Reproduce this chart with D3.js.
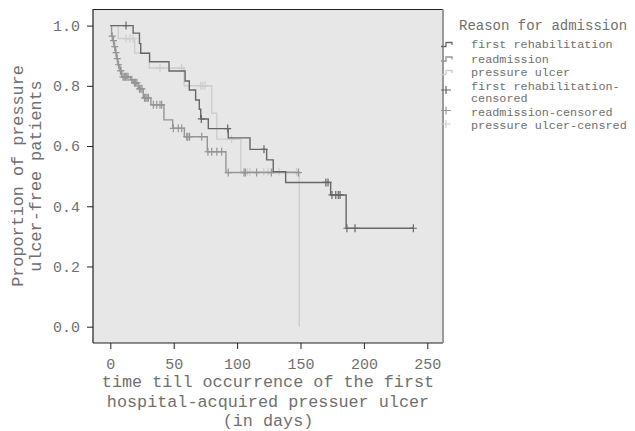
<!DOCTYPE html>
<html>
<head>
<meta charset="utf-8">
<script src="https://cdn.jsdelivr.net/npm/d3@7"></script>
<style>
  body { margin: 0; background: #fff; }
  text { font-family: "Liberation Mono", "DejaVu Sans Mono", monospace; fill: #707070; }
</style>
</head>
<body>
<svg id="chart" width="635" height="431"></svg>
<script>
// step curves: [day, proportion] at each event
const rehabSteps = [[0, 1], [18, 0.975], [23, 0.94], [24, 0.908], [31, 0.88], [46.3, 0.849], [59, 0.816],
  [62.3, 0.786], [67.3, 0.753], [70.2, 0.722], [71.3, 0.69], [77.3, 0.658], [93, 0.627], [110.2, 0.589],
  [123.3, 0.554], [128.5, 0.515], [138.3, 0.479], [173.8, 0.4375], [186, 0.327]];
const rehabEnd = 239;
const rehabCensored = [12.4, 71.8, 92.6, 121.2, 170, 171.7, 174.8, 177.8, 179.8, 181.2, 186.6, 193, 239];

const readmSteps = [[0, 1], [1, 0.965], [2, 0.95], [3, 0.93], [4, 0.91], [5, 0.89], [6, 0.87], [7.5, 0.85],
  [9, 0.83], [16, 0.82], [18, 0.81], [22, 0.79], [26, 0.76], [32, 0.737], [42.3, 0.687], [49.2, 0.659],
  [58.4, 0.631], [76.5, 0.581], [91.2, 0.512]];
const readmEnd = 148.4;
const readmCensored = [1.5, 2.5, 3.5, 4.5, 5.5, 6.5, 8, 8.5, 10, 11, 12, 13, 14, 17, 19, 20, 21, 23, 24, 25,
  27, 28, 29, 30, 34, 36.6, 39.2, 40.5, 49.7, 53.6, 56.3, 60.3, 61.2, 62.5, 72.1, 77, 80, 84, 87.8,
  93, 105.5, 106.5, 115.4, 127, 148.4];

const ulcerSteps = [[0, 1], [6.3, 0.957], [19.2, 0.909], [30.8, 0.859], [58.2, 0.8], [80, 0.709], [84, 0.623],
  [103, 0.515], [149, 0]];
const ulcerEnd = 149;
const ulcerCensored = [12.4, 15.5, 18.1, 39.2, 56.3, 71.3, 72.9, 74.7, 95.7, 108, 110, 121, 124.4, 133, 147];

const xTicks = [0, 50, 100, 150, 200, 250];
const yTicks = [0, 0.2, 0.4, 0.6, 0.8, 1.0];

const groups = [
  { name: "first rehabilitation", steps: rehabSteps, end: rehabEnd, cens: rehabCensored, color: "#676767" },
  { name: "readmission", steps: readmSteps, end: readmEnd, cens: readmCensored, color: "#959595" },
  { name: "pressure ulcer", steps: ulcerSteps, end: ulcerEnd, cens: ulcerCensored, color: "#cdcdcd" }
];
const legendLabels = [
  ["first rehabilitation"], ["readmission"], ["pressure ulcer"],
  ["first rehabilitation-", "censored"], ["readmission-censored"], ["pressure ulcer-censred"]
];

const svg = d3.select("#chart");
const pLeft = 93, pRight = 443, pTop = 9.5, pBottom = 343;

const x = d3.scaleLinear().domain([0, 250]).range([110.3, 427.3]);
const y = d3.scaleLinear().domain([0, 1]).range([326.7, 25.6]);

// panel
svg.append("rect")
  .attr("x", pLeft).attr("y", pTop)
  .attr("width", pRight - pLeft).attr("height", pBottom - pTop)
  .attr("fill", "#e6e7e6");
svg.append("path")
  .attr("d", `M${pLeft},${pBottom}V${pTop}H${pRight}M${pLeft},${pBottom}H${pRight}`)
  .attr("fill", "none").attr("stroke", "#222").attr("stroke-width", 1.2);
svg.append("line")
  .attr("x1", pRight).attr("x2", pRight).attr("y1", pTop).attr("y2", pBottom)
  .attr("stroke", "#9a9a9a").attr("stroke-width", 2);

// axes
const xAxis = svg.append("g")
  .attr("transform", `translate(0,${pBottom})`)
  .call(d3.axisBottom(x).tickValues(xTicks).tickSize(6).tickPadding(9).tickFormat(d3.format("d")));
const yAxis = svg.append("g")
  .attr("transform", `translate(${pLeft},0)`)
  .call(d3.axisLeft(y).tickValues(yTicks).tickSize(6).tickPadding(7).tickFormat(d3.format(".1f")));
[xAxis, yAxis].forEach(g => {
  g.select(".domain").remove();
  g.selectAll(".tick line").attr("stroke", "#222");
  g.selectAll("text").attr("font-size", 15).attr("fill", "#707070")
    .style("font-family", '"Liberation Mono", monospace');
});

// curves
const line = d3.line().x(d => x(d[0])).y(d => y(d[1])).curve(d3.curveStepAfter);
function valueAt(steps, t) {
  let v = steps[0][1];
  steps.forEach(s => { if (s[0] <= t) v = s[1]; });
  return v;
}
groups.slice().reverse().forEach(g => {
  const pts = g.steps.concat([[g.end, g.steps[g.steps.length - 1][1]]]);
  svg.append("path")
    .attr("d", line(pts))
    .attr("fill", "none").attr("stroke", g.color).attr("stroke-width", 1.4);
  svg.append("g").selectAll("path")
    .data(g.cens)
    .join("path")
    .attr("d", t => {
      const cx = x(t), cy = y(valueAt(g.steps, t));
      return `M${cx - 3.5},${cy}H${cx + 3.5}M${cx},${cy - 4}V${cy + 4}`;
    })
    .attr("stroke", g.color).attr("stroke-width", 1.2);
});

// axis titles
const xTitle = svg.append("text")
  .attr("x", (pLeft + pRight) / 2).attr("y", 387)
  .attr("text-anchor", "middle").attr("font-size", 16.8).attr("fill", "#606060");
["time till occurrence of the first", "hospital-acquired pressuer ulcer", "(in days)"].forEach((s, i) => {
  xTitle.append("tspan").attr("x", (pLeft + pRight) / 2).attr("dy", i ? 19.5 : 0).text(s);
});
const yTitle = svg.append("text")
  .attr("transform", `translate(23,176) rotate(-90)`)
  .attr("text-anchor", "middle").attr("font-size", 16.8).attr("fill", "#606060");
["Proportion of pressure", "ulcer-free patients"].forEach((s, i) => {
  yTitle.append("tspan").attr("x", 0).attr("dy", i ? 17.5 : 0).text(s);
});

// legend
svg.append("text")
  .attr("x", 459).attr("y", 30)
  .attr("font-size", 14).attr("fill", "#606060")
  .text("Reason for admission");
const legendY = [44, 58.5, 72, 85.5, 111.5, 124.5];
const markY = [44, 58.5, 72, 90, 110.5, 124];
legendLabels.forEach((lab, i) => {
  const g = groups[i % 3];
  const my = markY[i];
  if (i < 3) {
    svg.append("path")
      .attr("d", `M441,${my + 2.5}H446V${my - 1.5}H452V${my + 1}`)
      .attr("fill", "none").attr("stroke", g.color).attr("stroke-width", 1.3);
  } else {
    svg.append("path")
      .attr("d", `M441,${my}H451M446,${my - 4}V${my + 4}`)
      .attr("stroke", g.color).attr("stroke-width", 1.2);
  }
  lab.forEach((s, j) => {
    svg.append("text")
      .attr("x", 471).attr("y", legendY[i] + 4 + j * 12.5)
      .attr("font-size", 11.8).attr("fill", "#707070")
      .text(s);
  });
});
</script>
</body>
</html>
